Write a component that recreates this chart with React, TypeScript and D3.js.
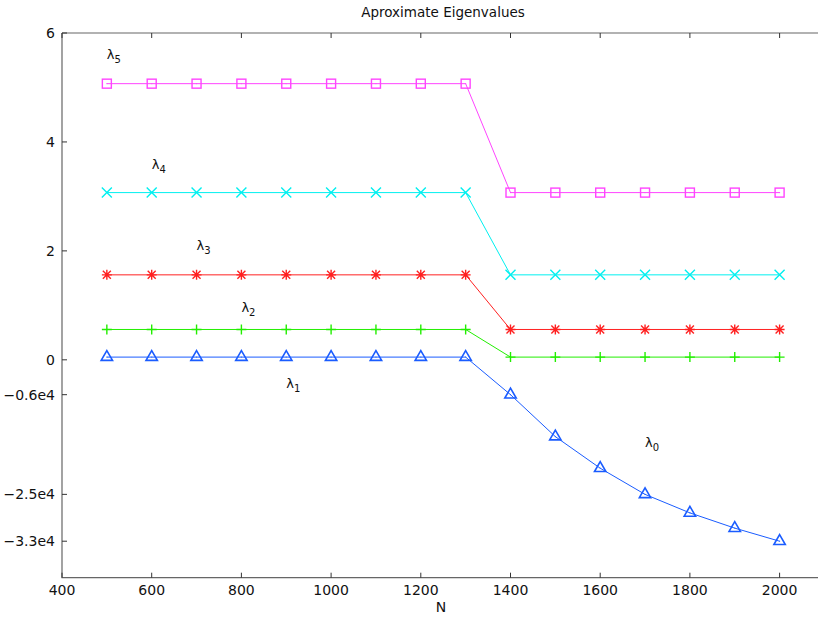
import React from "react";
import * as d3 from "d3";

const N = [500, 600, 700, 800, 900, 1000, 1100, 1200, 1300, 1400, 1500, 1600, 1700, 1800, 1900, 2000];
const lambda0 = [0.05, 0.05, 0.05, 0.05, 0.05, 0.05, 0.05, 0.05, 0.05, -0.64, -1.41, -1.99, -2.47, -2.81, -3.09, -3.33];
const lambda2 = [0.557, 0.557, 0.557, 0.557, 0.557, 0.557, 0.557, 0.557, 0.557, 0.05, 0.05, 0.05, 0.05, 0.05, 0.05, 0.05];
const lambda3 = [1.56, 1.56, 1.56, 1.56, 1.56, 1.56, 1.56, 1.56, 1.56, 0.557, 0.557, 0.557, 0.557, 0.557, 0.557, 0.557];
const lambda4 = [3.07, 3.07, 3.07, 3.07, 3.07, 3.07, 3.07, 3.07, 3.07, 1.56, 1.56, 1.56, 1.56, 1.56, 1.56, 1.56];
const lambda5 = [5.07, 5.07, 5.07, 5.07, 5.07, 5.07, 5.07, 5.07, 5.07, 3.07, 3.07, 3.07, 3.07, 3.07, 3.07, 3.07];

const xTicks = [400, 600, 800, 1000, 1200, 1400, 1600, 1800, 2000];
const yTickValues = [6, 4, 2, 0, -0.64, -2.47, -3.33];
const yTickLabels = ["6", "4", "2", "0", "\u22120.6e4", "\u22122.5e4", "\u22123.3e4"];

const labelSub = ["5", "4", "3", "2", "1", "0"];
const labelX = [500, 600, 700, 800, 900, 1700];
const labelY = [5.6, 3.58, 2.1, 0.97, -0.44, -1.52];

const seriesData = [lambda5, lambda4, lambda3, lambda2, lambda0];
const seriesColors = ["#ff44ff", "#00f0f0", "#ff2020", "#22ee00", "#1a5cff"];
const seriesMarkers = ["square", "x", "asterisk", "plus", "triangle"];

const W = 818;
const H = 618;
const FONT = "'DejaVu Sans', sans-serif";

function Marker({ type, x, y, color }: { type: string; x: number; y: number; color: string }) {
  const sw = 1.4;
  const r = 5;
  if (type === "square") {
    return (
      <g>
        <rect x={x - 4.5} y={y - 4.5} width={9} height={9} fill="none" stroke={color} strokeWidth={sw} />
        <rect x={x - 0.5} y={y - 0.5} width={1} height={1} fill={color} />
      </g>
    );
  }
  if (type === "x") {
    return (
      <path d={`M${x - r},${y - r}L${x + r},${y + r}M${x - r},${y + r}L${x + r},${y - r}`} stroke={color} strokeWidth={sw} fill="none" />
    );
  }
  if (type === "plus") {
    return (
      <path d={`M${x - r},${y}L${x + r},${y}M${x},${y - r}L${x},${y + r}`} stroke={color} strokeWidth={sw} fill="none" />
    );
  }
  if (type === "asterisk") {
    const d = r * 0.8;
    return (
      <path
        d={`M${x - r},${y}L${x + r},${y}M${x},${y - r}L${x},${y + r}M${x - d},${y - d}L${x + d},${y + d}M${x - d},${y + d}L${x + d},${y - d}`}
        stroke={color}
        strokeWidth={sw}
        fill="none"
      />
    );
  }
  return (
    <g>
      <path d={`M${x},${y - 6.5}L${x + 5.7},${y + 3.3}L${x - 5.7},${y + 3.3}Z`} stroke={color} strokeWidth={1.6} fill="none" />
      <rect x={x - 0.5} y={y - 0.5} width={1} height={1} fill={color} />
    </g>
  );
}

export default function App() {
  const x = d3.scaleLinear().domain([400, 2100]).range([62, 62 + 1700 * 0.4485]);
  const y = d3.scaleLinear().domain([-4, 6]).range([577.7, 33]);
  const line = d3
    .line<[number, number]>()
    .x((d) => x(d[0]))
    .y((d) => y(d[1]));

  const axisColor = "#666";
  const left = x(400);
  const right = x(2100);
  const top = y(6);
  const bottom = y(-4);

  return (
    <svg width={W} height={H} style={{ position: "absolute", left: 0, top: 0, background: "#fff" }} fontFamily={FONT}>
      <rect x={0} y={0} width={W} height={H} fill="#fff" />
      {seriesData.map((vals, i) => {
        const pts: [number, number][] = N.map((n, j) => [n, vals[j]]);
        return (
          <g key={i}>
            <path d={line(pts) || ""} fill="none" stroke={seriesColors[i]} strokeWidth={1} />
            {pts.map((p, j) => (
              <Marker key={j} type={seriesMarkers[i]} x={x(p[0])} y={y(p[1])} color={seriesColors[i]} />
            ))}
          </g>
        );
      })}
      <path d={`M${left},${top}L${right},${top}M${left},${top}L${left},${bottom}L${right},${bottom}M${right},${top}L${right},${bottom}`} stroke={axisColor} strokeWidth={1.2} fill="none" />
      {xTicks.map((t) => (
        <g key={t}>
          <line x1={x(t)} x2={x(t)} y1={bottom} y2={bottom - 5} stroke="#333" strokeWidth={1} />
          <line x1={x(t)} x2={x(t)} y1={top} y2={top + 5} stroke="#333" strokeWidth={1} />
          <text x={x(t)} y={595} textAnchor="middle" fontSize={14} fill="#111">
            {t}
          </text>
        </g>
      ))}
      {yTickValues.map((t, i) => (
        <g key={i}>
          <line x1={left} x2={left + 5} y1={y(t)} y2={y(t)} stroke="#333" strokeWidth={1} />
          <text x={left - 7} y={y(t)} dy="0.35em" textAnchor="end" fontSize={14} fill="#111">
            {yTickLabels[i]}
          </text>
        </g>
      ))}
      {labelSub.map((s, i) => (
        <text key={i} x={x(labelX[i])} y={y(labelY[i])} dy="0.35em" fontSize={13} fill="#111">
          λ
          <tspan fontSize={10} dy="4">
            {s}
          </tspan>
        </text>
      ))}
      <text x={443} y={17} textAnchor="middle" fontSize={13.5} fill="#111">
        Aproximate Eigenvalues
      </text>
      <text x={441} y={612} textAnchor="middle" fontSize={14} fill="#111">
        N
      </text>
    </svg>
  );
}
